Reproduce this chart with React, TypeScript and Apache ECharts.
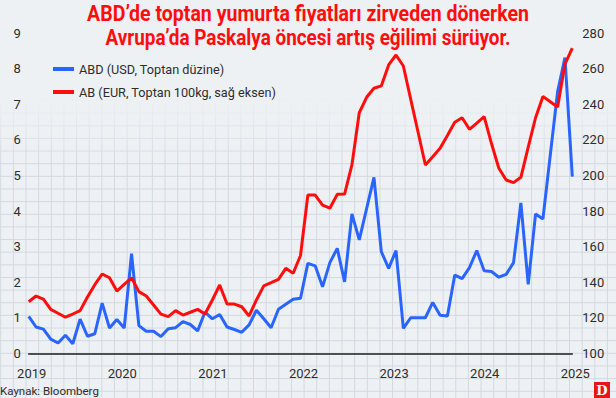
import React, { useEffect, useRef } from "react";
import * as echarts from "echarts";

// Monthly observations, Jan 2019 – Mar 2025
const startYear = 2019;
const monthCount = 75;
const months: string[] = [];
for (let i = 0; i < monthCount; i++) {
  const y = startYear + Math.floor(i / 12);
  const m = (i % 12) + 1;
  months.push(`${y}-${m < 10 ? "0" + m : m}`);
}

// ABD (USD, Toptan düzine) – left axis
const abdValues = [
  1.04, 0.74, 0.68, 0.4, 0.29, 0.51, 0.27, 0.96, 0.48, 0.55, 1.41, 0.71,
  0.95, 0.71, 2.8, 0.78, 0.62, 0.62, 0.47, 0.69, 0.72, 0.89, 0.81, 0.63,
  1.16, 0.97, 1.09, 0.74, 0.67, 0.59, 0.8, 1.21, 0.97, 0.72, 1.24, 1.38,
  1.52, 1.55, 2.53, 2.46, 1.87, 2.55, 2.95, 2.01, 3.92, 3.19, 4.07, 4.95,
  2.86, 2.39, 2.89, 0.7, 1.0, 1.0, 1.0, 1.43, 1.07, 1.05, 2.2, 2.1,
  2.41, 2.89, 2.32, 2.3, 2.14, 2.22, 2.55, 4.23, 1.94, 3.92, 3.78, 5.57,
  7.36, 8.32, 4.97,
];

// AB (EUR, Toptan 100kg) – right axis
const abValues = [
  129.0, 132.2, 130.5, 124.7, 122.5, 120.3, 122.1, 124.0, 131.7, 138.6, 144.6, 142.5,
  135.0, 138.8, 142.5, 134.7, 132.2, 127.2, 122.0, 120.6, 124.0, 121.5, 123.1, 124.7,
  122.1, 130.0, 138.4, 127.7, 127.7, 126.2, 121.0, 130.0, 137.9, 139.7, 141.6, 147.8,
  145.0, 155.0, 189.0, 189.0, 183.4, 181.6, 189.4, 189.6, 206.0, 235.3, 244.0, 249.1,
  250.4, 262.2, 267.8, 261.6, 243.0, 224.5, 205.9, 210.6, 215.3, 222.5, 230.0, 232.5,
  226.0, 229.5, 233.1, 218.0, 204.1, 197.5, 196.0, 199.0, 216.0, 232.5, 244.5, 241.5,
  238.5, 262.7, 271.6,
];

const yearMin = 2019;
const yearMax = 2025;
const leftMin = 0;
const leftMax = 9;
const leftInterval = 1;
const rightMin = 100;
const rightMax = 280;
const rightInterval = 20;

const titleLines = [
  "ABD’de toptan yumurta fiyatları zirveden dönerken",
  "Avrupa’da Paskalya öncesi artış eğilimi sürüyor.",
];
const titleWidths = [442, 405];
const seriesNames = ["ABD (USD, Toptan düzine)", "AB (EUR, Toptan 100kg, sağ eksen)"];
const sourceText = "Kaynak: Bloomberg";

const W = 616;
const H = 398;
const BG = "#edf1f4";
const RED = "#ff0d0d";
const BLUE = "#2a64ff";
const TEXT = "#2d2d2d";
const SMALL_FONT = "Roboto, 'Noto Sans', sans-serif";
const TITLE_FONT = "bold 22px Roboto, 'Noto Sans', sans-serif";

function measure(text: string, font: string): number {
  const c = document.createElement("canvas").getContext("2d");
  if (!c) return 1;
  c.font = font;
  return c.measureText(text).width || 1;
}

export default function App() {
  const ref = useRef<HTMLDivElement>(null);

  useEffect(() => {
    if (!ref.current) return;
    const chart = echarts.init(ref.current, undefined, { renderer: "svg" });

    // graph-paper background (decoration)
    const paper: any[] = [];
    const cell = 12.64;
    const x0 = 26;
    const y0 = 353.3;
    for (let k = -3; k < 48; k++) {
      const x = x0 + k * cell;
      paper.push({
        type: "line",
        silent: true,
        z: -10,
        shape: { x1: x, y1: 70, x2: x, y2: H },
        style: { stroke: "#d2dadf", lineWidth: 1 },
      });
    }
    for (let k = -4; k < 24; k++) {
      const y = y0 - k * cell;
      paper.push({
        type: "line",
        silent: true,
        z: -10,
        shape: { x1: 0, y1: y, x2: W, y2: y },
        style: { stroke: "#d2dadf", lineWidth: 1 },
      });
    }
    paper.push({
      type: "rect",
      silent: true,
      z: -9,
      shape: { x: 0, y: 0, width: W, height: 165 },
      style: {
        fill: new echarts.graphic.LinearGradient(0, 0, 0, 1, [
          { offset: 0, color: "rgba(237,241,244,1)" },
          { offset: 0.58, color: "rgba(237,241,244,1)" },
          { offset: 1, color: "rgba(237,241,244,0)" },
        ]),
      },
    });

    const titleEls = titleLines.map((t, i) => ({
      type: "text",
      x: W / 2,
      y: 14 + i * 23,
      z: 10,
      scaleX: titleWidths[i] / measure(t, TITLE_FONT),
      style: {
        text: t,
        align: "center",
        verticalAlign: "middle",
        fill: RED,
        font: TITLE_FONT,
      },
    }));

    const option: any = {
      animation: false,
      backgroundColor: BG,
      grid: { left: 28.7, right: W - 572.3, top: 33.3, bottom: H - 353.3, containLabel: false },
      legend: {
        orient: "vertical",
        left: 53,
        top: 62,
        padding: 0,
        icon: "rect",
        itemWidth: 21,
        itemHeight: 4,
        itemGap: 9,
        textStyle: { color: TEXT, fontSize: 12.7, fontFamily: SMALL_FONT, lineHeight: 14 },
        data: seriesNames,
      },
      xAxis: [
        {
          type: "category",
          data: months,
          boundaryGap: false,
          show: false,
        },
        {
          type: "value",
          min: yearMin,
          max: yearMax,
          interval: 1,
          position: "bottom",
          axisLine: { show: true, onZero: false, lineStyle: { color: "#1e1e1e", width: 1.5 } },
          axisTick: { show: false },
          splitLine: { show: false },
          axisLabel: {
            color: TEXT,
            fontSize: 13,
            fontFamily: SMALL_FONT,
            margin: 14,
            padding: [0, 0, 0, 6],
            formatter: (v: number) => String(v),
          },
        },
      ],
      yAxis: [
        {
          type: "value",
          min: leftMin,
          max: leftMax,
          interval: leftInterval,
          position: "left",
          axisLine: { show: false },
          axisTick: { show: false },
          splitLine: { show: false },
          axisLabel: { color: TEXT, fontSize: 13, fontFamily: SMALL_FONT, margin: 8 },
        },
        {
          type: "value",
          min: rightMin,
          max: rightMax,
          interval: rightInterval,
          position: "right",
          axisLine: { show: false },
          axisTick: { show: false },
          splitLine: { show: false },
          axisLabel: { color: TEXT, fontSize: 13, fontFamily: SMALL_FONT, margin: 10 },
        },
      ],
      series: [
        {
          name: seriesNames[0],
          type: "line",
          xAxisIndex: 0,
          yAxisIndex: 0,
          data: abdValues,
          symbol: "none",
          color: BLUE,
          lineStyle: { color: BLUE, width: 3 },
          z: 3,
        },
        {
          name: seriesNames[1],
          type: "line",
          xAxisIndex: 0,
          yAxisIndex: 1,
          data: abValues,
          symbol: "none",
          color: RED,
          lineStyle: { color: RED, width: 3 },
          z: 4,
        },
      ],
      graphic: [
        ...paper,
        ...titleEls,
        {
          type: "text",
          x: 0,
          y: 391,
          z: 10,
          style: {
            text: sourceText,
            align: "left",
            verticalAlign: "middle",
            fill: TEXT,
            font: "11.5px Roboto, 'Noto Sans', sans-serif",
          },
        },
        {
          type: "rect",
          z: 10,
          shape: { x: 594, y: 382, width: 16, height: 16 },
          style: { fill: "#e8141c" },
        },
        {
          type: "text",
          x: 602,
          y: 390,
          z: 11,
          style: {
            text: "D",
            align: "center",
            verticalAlign: "middle",
            fill: "#ffffff",
            font: "bold 13px 'DejaVu Serif', 'Liberation Serif', serif",
          },
        },
      ],
    };

    chart.setOption(option);
    return () => chart.dispose();
  }, []);

  return (
    <div
      ref={ref}
      style={{ position: "fixed", left: 0, top: 0, width: W, height: H }}
    />
  );
}
